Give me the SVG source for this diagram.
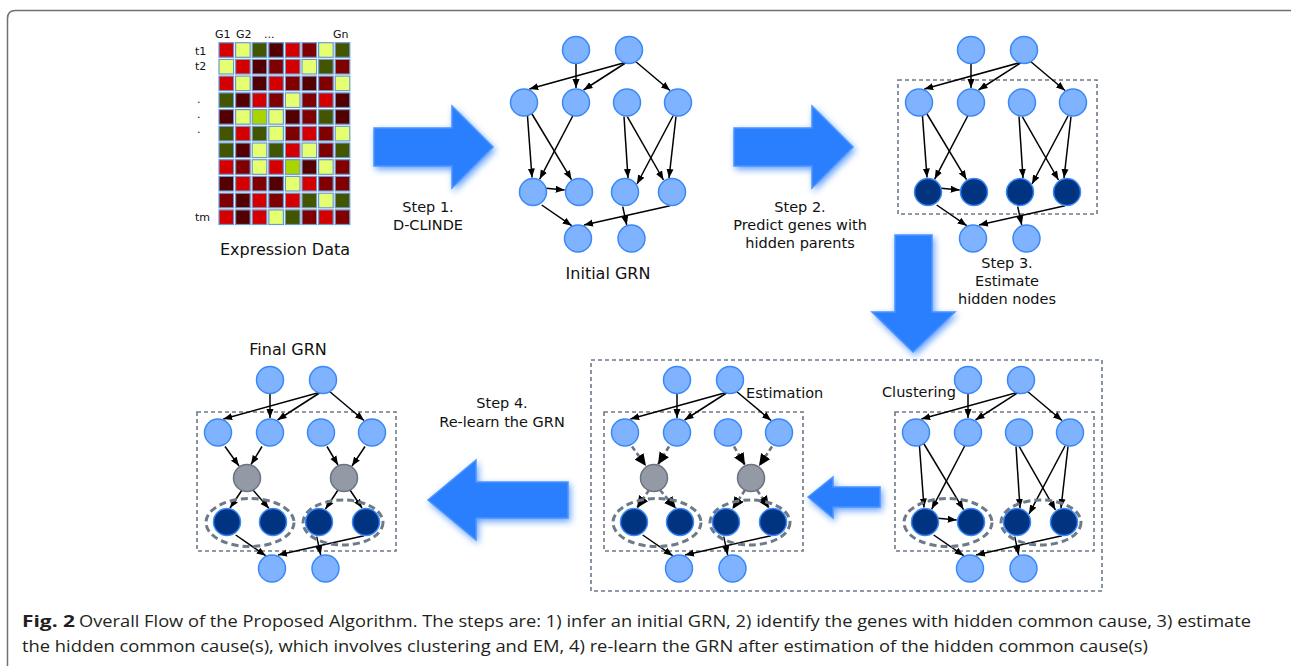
<svg xmlns="http://www.w3.org/2000/svg" width="1291" height="666" viewBox="0 0 1291 666">
<defs>
<style>
.R{fill:#d40000}.Y{fill:#e5ff70}.G{fill:#445500}.D{fill:#550000}.M{fill:#800000}.L{fill:#aad400}
.cells rect{stroke:#6a9ad6;stroke-width:1.2}
.n{fill:#80b3ff;stroke:#3a88f8;stroke-width:1.5}
.k{fill:#003380;stroke:#3a88f8;stroke-width:1.5}
.h{fill:#939aa6;stroke:#6c7380;stroke-width:1.5}
.e{fill:none;stroke:#000;stroke-width:1.5;marker-end:url(#ah)}
.ed{fill:none;stroke:#6c7585;stroke-width:2.6;stroke-dasharray:5 3;marker-end:url(#ahb)}
.box{fill:none;stroke:#6c7a89;stroke-width:1.6;stroke-dasharray:4 3}
.ell{fill:none;stroke:#6c7a89;stroke-width:3;stroke-dasharray:7 4}
.barrow{fill:#2a7fff;stroke:#4d94ff;stroke-width:1.5;filter:url(#glow)}
.lbl{font-family:"DejaVu Sans",sans-serif;font-size:14.5px;fill:#111;text-anchor:middle}
.big{font-family:"DejaVu Sans",sans-serif;font-size:16px;fill:#111;text-anchor:middle}
.mat{font-family:"DejaVu Sans",sans-serif;font-size:11px;fill:#111}
.cap{font-family:"Open Sans","Liberation Sans",sans-serif;font-size:16.5px;fill:#231f20}
.capb{font-family:"Open Sans","Liberation Sans",sans-serif;font-size:16.5px;font-weight:bold;fill:#231f20}
</style>
<marker id="ah" markerUnits="userSpaceOnUse" markerWidth="10" markerHeight="8" refX="9" refY="4" orient="auto"><path d="M0,0.5 L9,4 L0,7.5 z" fill="#000"/></marker>
<marker id="ahb" markerUnits="userSpaceOnUse" markerWidth="13" markerHeight="11" refX="12" refY="5.5" orient="auto"><path d="M0,0 L12,5.5 L0,11 z" fill="#000"/></marker>
<filter id="glow" x="-30%" y="-30%" width="160%" height="160%">
<feGaussianBlur in="SourceGraphic" stdDeviation="3.5" result="blur"/>
<feOffset in="blur" dx="2" dy="3" result="off"/>
<feComponentTransfer in="off" result="soft"><feFuncA type="linear" slope="0.75"/></feComponentTransfer>
<feGaussianBlur in="SourceGraphic" stdDeviation="0.7" result="edge"/>
<feMerge><feMergeNode in="soft"/><feMergeNode in="edge"/></feMerge>
</filter>
</defs>
<rect width="1291" height="666" fill="#fff"/>
<path d="M7.5,666 L7.5,18.5 Q7.5,10.5 15.5,10.5 L1291,10.5" fill="none" stroke="#707070" stroke-width="1.5"/>

<!-- Expression data matrix -->
<g id="expression-data">
<g class="mat">
<text x="215" y="38">G1</text><text x="236" y="38">G2</text><text x="264" y="38">...</text><text x="333" y="38">Gn</text>
<text x="195" y="55">t1</text><text x="195" y="70">t2</text>
<text x="197" y="103">.</text><text x="197" y="118">.</text><text x="197" y="133">.</text>
<text x="195" y="221">tm</text>
</g>
<g class="cells">
<g transform="translate(0,42.7)"><rect class="R" x="219" width="14.6" height="14.6"/><rect class="Y" x="235.6" width="14.6" height="14.6"/><rect class="G" x="252.2" width="14.6" height="14.6"/><rect class="D" x="268.8" width="14.6" height="14.6"/><rect class="R" x="285.4" width="14.6" height="14.6"/><rect class="M" x="302" width="14.6" height="14.6"/><rect class="Y" x="318.6" width="14.6" height="14.6"/><rect class="G" x="335.2" width="14.6" height="14.6"/></g>
<g transform="translate(0,59.4)"><rect class="Y" x="219" width="14.6" height="14.6"/><rect class="R" x="235.6" width="14.6" height="14.6"/><rect class="D" x="252.2" width="14.6" height="14.6"/><rect class="M" x="268.8" width="14.6" height="14.6"/><rect class="R" x="285.4" width="14.6" height="14.6"/><rect class="Y" x="302" width="14.6" height="14.6"/><rect class="G" x="318.6" width="14.6" height="14.6"/><rect class="M" x="335.2" width="14.6" height="14.6"/></g>
<g transform="translate(0,76.1)"><rect class="R" x="219" width="14.6" height="14.6"/><rect class="Y" x="235.6" width="14.6" height="14.6"/><rect class="D" x="252.2" width="14.6" height="14.6"/><rect class="R" x="268.8" width="14.6" height="14.6"/><rect class="M" x="285.4" width="14.6" height="14.6"/><rect class="D" x="302" width="14.6" height="14.6"/><rect class="M" x="318.6" width="14.6" height="14.6"/><rect class="Y" x="335.2" width="14.6" height="14.6"/></g>
<g transform="translate(0,92.9)"><rect class="G" x="219" width="14.6" height="14.6"/><rect class="D" x="235.6" width="14.6" height="14.6"/><rect class="R" x="252.2" width="14.6" height="14.6"/><rect class="M" x="268.8" width="14.6" height="14.6"/><rect class="Y" x="285.4" width="14.6" height="14.6"/><rect class="M" x="302" width="14.6" height="14.6"/><rect class="R" x="318.6" width="14.6" height="14.6"/><rect class="D" x="335.2" width="14.6" height="14.6"/></g>
<g transform="translate(0,109.6)"><rect class="D" x="219" width="14.6" height="14.6"/><rect class="Y" x="235.6" width="14.6" height="14.6"/><rect class="L" x="252.2" width="14.6" height="14.6"/><rect class="Y" x="268.8" width="14.6" height="14.6"/><rect class="D" x="285.4" width="14.6" height="14.6"/><rect class="M" x="302" width="14.6" height="14.6"/><rect class="G" x="318.6" width="14.6" height="14.6"/><rect class="D" x="335.2" width="14.6" height="14.6"/></g>
<g transform="translate(0,126.3)"><rect class="G" x="219" width="14.6" height="14.6"/><rect class="R" x="235.6" width="14.6" height="14.6"/><rect class="G" x="252.2" width="14.6" height="14.6"/><rect class="Y" x="268.8" width="14.6" height="14.6"/><rect class="M" x="285.4" width="14.6" height="14.6"/><rect class="R" x="302" width="14.6" height="14.6"/><rect class="M" x="318.6" width="14.6" height="14.6"/><rect class="Y" x="335.2" width="14.6" height="14.6"/></g>
<g transform="translate(0,143)"><rect class="G" x="219" width="14.6" height="14.6"/><rect class="D" x="235.6" width="14.6" height="14.6"/><rect class="Y" x="252.2" width="14.6" height="14.6"/><rect class="G" x="268.8" width="14.6" height="14.6"/><rect class="R" x="285.4" width="14.6" height="14.6"/><rect class="Y" x="302" width="14.6" height="14.6"/><rect class="M" x="318.6" width="14.6" height="14.6"/><rect class="G" x="335.2" width="14.6" height="14.6"/></g>
<g transform="translate(0,159.7)"><rect class="R" x="219" width="14.6" height="14.6"/><rect class="M" x="235.6" width="14.6" height="14.6"/><rect class="Y" x="252.2" width="14.6" height="14.6"/><rect class="R" x="268.8" width="14.6" height="14.6"/><rect class="L" x="285.4" width="14.6" height="14.6"/><rect class="D" x="302" width="14.6" height="14.6"/><rect class="Y" x="318.6" width="14.6" height="14.6"/><rect class="M" x="335.2" width="14.6" height="14.6"/></g>
<g transform="translate(0,176.4)"><rect class="D" x="219" width="14.6" height="14.6"/><rect class="R" x="235.6" width="14.6" height="14.6"/><rect class="M" x="252.2" width="14.6" height="14.6"/><rect class="D" x="268.8" width="14.6" height="14.6"/><rect class="Y" x="285.4" width="14.6" height="14.6"/><rect class="R" x="302" width="14.6" height="14.6"/><rect class="M" x="318.6" width="14.6" height="14.6"/><rect class="M" x="335.2" width="14.6" height="14.6"/></g>
<g transform="translate(0,193.2)"><rect class="M" x="219" width="14.6" height="14.6"/><rect class="D" x="235.6" width="14.6" height="14.6"/><rect class="R" x="252.2" width="14.6" height="14.6"/><rect class="M" x="268.8" width="14.6" height="14.6"/><rect class="R" x="285.4" width="14.6" height="14.6"/><rect class="G" x="302" width="14.6" height="14.6"/><rect class="Y" x="318.6" width="14.6" height="14.6"/><rect class="G" x="335.2" width="14.6" height="14.6"/></g>
<g transform="translate(0,209.9)"><rect class="R" x="219" width="14.6" height="14.6"/><rect class="D" x="235.6" width="14.6" height="14.6"/><rect class="R" x="252.2" width="14.6" height="14.6"/><rect class="Y" x="268.8" width="14.6" height="14.6"/><rect class="G" x="285.4" width="14.6" height="14.6"/><rect class="M" x="302" width="14.6" height="14.6"/><rect class="R" x="318.6" width="14.6" height="14.6"/><rect class="M" x="335.2" width="14.6" height="14.6"/></g>
</g>
<text class="big" x="285" y="255">Expression Data</text>
</g>

<!-- Block arrows -->
<g id="block-arrows">
<polygon id="arrow-step1" class="barrow" points="374,128 452,128 452,106 493,147 452,188 452,166 374,166"/>
<polygon id="arrow-step2" class="barrow" points="734,128 812,128 812,106 853,147 812,188 812,166 734,166"/>
<polygon id="arrow-step3" class="barrow" points="895,235 932,235 932,312 955,312 913,352 872,312 895,312"/>
<polygon id="arrow-step4" class="barrow" points="428,500 476,460 476,482 568,482 568,518 476,518 476,540"/>
<polygon id="arrow-est" class="barrow" points="808,497 833,477 833,487 880,487 880,507 833,507 833,518"/>
</g>

<!-- Labels -->
<g id="labels">
<text class="lbl" x="428" y="212">Step 1.</text>
<text class="lbl" x="428" y="230">D-CLINDE</text>
<text class="big" x="608" y="279">Initial GRN</text>
<text class="lbl" x="800" y="212">Step 2.</text>
<text class="lbl" x="800" y="230">Predict genes with</text>
<text class="lbl" x="800" y="248">hidden parents</text>
<text class="lbl" x="1007" y="268">Step 3.</text>
<text class="lbl" x="1007" y="286">Estimate</text>
<text class="lbl" x="1007" y="304">hidden nodes</text>
<text class="lbl" x="502" y="408">Step 4.</text>
<text class="lbl" x="502" y="427">Re-learn the GRN</text>
<text class="big" x="288" y="355">Final GRN</text>
<text class="lbl" x="746" y="398" style="text-anchor:start">Estimation</text>
<text class="lbl" x="882" y="397" style="text-anchor:start">Clustering</text>
</g>

<!-- Dashed containers -->
<g id="containers">
<rect class="box" x="898" y="80" width="199" height="134"/>
<rect class="box" x="197" y="412" width="199" height="139"/>
<rect class="box" x="591" y="360" width="511" height="231"/>
<rect class="box" x="604" y="412" width="199" height="139"/>
<rect class="box" x="895" y="412" width="199" height="139"/>
</g>

<!-- Graph 1: Initial GRN -->
<g id="grn-initial" transform="translate(576,50)">
<g id="grn-initial-connectors">
<path class="e" d="M0,12 L0,38"/><path class="e" d="M51,12 L-46.7,39"/><path class="e" d="M51,12 L7.5,40"/><path class="e" d="M59,11 L94,40.5"/>
<path class="e" d="M-48.7,63.5 L-44,127.5"/><path class="e" d="M-44.3,63.5 L-4.5,129.6"/><path class="e" d="M-3.3,66 L-36.3,129.1"/>
<path class="e" d="M48,66.5 L52,128"/><path class="e" d="M51.3,66.7 L87.5,130"/><path class="e" d="M97,66 L61,134"/><path class="e" d="M100,66.5 L93,128"/>
<path class="e" d="M-30,138.3 L-11.3,140"/><path class="e" d="M-34.3,155 L-4.3,175.7"/><path class="e" d="M46.7,156.7 L50.7,175"/><path class="e" d="M94,155.7 L8,175"/>
</g>
<g id="i-t1"><circle class="n" cx="0" cy="0" r="13.5"/></g><g id="i-t2"><circle class="n" cx="53" cy="0" r="13.5"/></g>
<g id="i-a1"><circle class="n" cx="-52" cy="52.5" r="13.5"/></g><g id="i-a2"><circle class="n" cx="0" cy="52.5" r="13.5"/></g><g id="i-a3"><circle class="n" cx="51" cy="52.5" r="13.5"/></g><g id="i-a4"><circle class="n" cx="102" cy="52.5" r="13.5"/></g>
<g id="i-b1"><circle class="n" cx="-43" cy="142" r="13.5"/></g><g id="i-b2"><circle class="n" cx="3" cy="142" r="13.5"/></g><g id="i-b3"><circle class="n" cx="49" cy="142" r="13.5"/></g><g id="i-b4"><circle class="n" cx="96" cy="142" r="13.5"/></g>
<g id="i-c1"><circle class="n" cx="2" cy="188.5" r="13.5"/></g><g id="i-c2"><circle class="n" cx="55.5" cy="188.5" r="13.5"/></g>
</g>

<!-- Graph 2: predicted hidden parents -->
<g id="grn-step2" transform="translate(971,50)">
<g id="grn-step2-connectors">
<path class="e" d="M0,12 L0,38"/><path class="e" d="M51,12 L-46.7,39"/><path class="e" d="M51,12 L7.5,40"/><path class="e" d="M59,11 L94,40.5"/>
<path class="e" d="M-48.7,63.5 L-44,127.5"/><path class="e" d="M-44.3,63.5 L-4.5,129.6"/><path class="e" d="M-3.3,66 L-36.3,129.1"/>
<path class="e" d="M48,66.5 L52,128"/><path class="e" d="M51.3,66.7 L87.5,130"/><path class="e" d="M97,66 L61,134"/><path class="e" d="M100,66.5 L93,128"/>
<path class="e" d="M-30,138.3 L-11.3,140"/><path class="e" d="M-34.3,155 L-4.3,175.7"/><path class="e" d="M46.7,156.7 L50.7,175"/><path class="e" d="M94,155.7 L8,175"/>
</g>
<g id="s-t1"><circle class="n" cx="0" cy="0" r="13.5"/></g><g id="s-t2"><circle class="n" cx="53" cy="0" r="13.5"/></g>
<g id="s-a1"><circle class="n" cx="-52" cy="52.5" r="13.5"/></g><g id="s-a2"><circle class="n" cx="0" cy="52.5" r="13.5"/></g><g id="s-a3"><circle class="n" cx="51" cy="52.5" r="13.5"/></g><g id="s-a4"><circle class="n" cx="102" cy="52.5" r="13.5"/></g>
<g id="s-b1"><circle class="k" cx="-43" cy="142" r="13.5"/></g><g id="s-b2"><circle class="k" cx="3" cy="142" r="13.5"/></g><g id="s-b3"><circle class="k" cx="49" cy="142" r="13.5"/></g><g id="s-b4"><circle class="k" cx="96" cy="142" r="13.5"/></g>
<g id="s-c1"><circle class="n" cx="2" cy="188.5" r="13.5"/></g><g id="s-c2"><circle class="n" cx="55.5" cy="188.5" r="13.5"/></g>
</g>

<!-- Graph 3: Clustering -->
<g id="grn-clustering" transform="translate(968,380)">
<g id="grn-clustering-connectors">
<path class="e" d="M0,12 L0,38"/><path class="e" d="M51,12 L-46.7,39"/><path class="e" d="M51,12 L7.5,40"/><path class="e" d="M59,11 L94,40.5"/>
<path class="e" d="M-48.7,63.5 L-44,127.5"/><path class="e" d="M-44.3,63.5 L-4.5,129.6"/><path class="e" d="M-3.3,66 L-36.3,129.1"/>
<path class="e" d="M48,66.5 L52,128"/><path class="e" d="M51.3,66.7 L87.5,130"/><path class="e" d="M97,66 L61,134"/><path class="e" d="M100,66.5 L93,128"/>
<path class="e" d="M-30,138.3 L-11.3,140"/><path class="e" d="M-34.3,155 L-4.3,175.7"/><path class="e" d="M46.7,156.7 L50.7,175"/><path class="e" d="M94,155.7 L8,175"/>
</g>
<ellipse class="ell" cx="-20" cy="142.5" rx="44" ry="24"/><ellipse class="ell" cx="73" cy="142.5" rx="40" ry="22.5"/>
<g id="c-t1"><circle class="n" cx="0" cy="0" r="13.5"/></g><g id="c-t2"><circle class="n" cx="53" cy="0" r="13.5"/></g>
<g id="c-a1"><circle class="n" cx="-52" cy="52.5" r="13.5"/></g><g id="c-a2"><circle class="n" cx="0" cy="52.5" r="13.5"/></g><g id="c-a3"><circle class="n" cx="51" cy="52.5" r="13.5"/></g><g id="c-a4"><circle class="n" cx="102" cy="52.5" r="13.5"/></g>
<g id="c-b1"><circle class="k" cx="-43" cy="142" r="13.5"/></g><g id="c-b2"><circle class="k" cx="3" cy="142" r="13.5"/></g><g id="c-b3"><circle class="k" cx="49" cy="142" r="13.5"/></g><g id="c-b4"><circle class="k" cx="96" cy="142" r="13.5"/></g>
<g id="c-c1"><circle class="n" cx="2" cy="188.5" r="13.5"/></g><g id="c-c2"><circle class="n" cx="55.5" cy="188.5" r="13.5"/></g>
</g>

<!-- Graph 4: Estimation -->
<g id="grn-estimation" transform="translate(677,380)">
<g id="grn-estimation-connectors">
<path class="e" d="M0,12 L0,38"/><path class="e" d="M51,12 L-46.7,39"/><path class="e" d="M51,12 L7.5,40"/><path class="e" d="M59,11 L94,40.5"/>
<path class="ed" d="M-45,66.5 L-31,86"/><path class="ed" d="M-8,66.5 L-19,84.5"/><path class="ed" d="M57,66.5 L68,85"/><path class="ed" d="M95,66.5 L82,86"/>
<path class="ed" d="M-28,110 L-40,128"/><path class="ed" d="M-17,110 L-1,128.5"/><path class="ed" d="M68,110 L55.5,129"/><path class="ed" d="M80,110 L92,128"/>
<path class="e" d="M-34.3,155 L-4.3,175.7"/><path class="e" d="M46.7,156.7 L50.7,175"/><path class="e" d="M94,155.7 L8,175"/>
</g>
<ellipse class="ell" cx="-20" cy="142.5" rx="44" ry="24"/><ellipse class="ell" cx="73" cy="142.5" rx="40" ry="22.5"/>
<g id="e-t1"><circle class="n" cx="0" cy="0" r="13.5"/></g><g id="e-t2"><circle class="n" cx="53" cy="0" r="13.5"/></g>
<g id="e-a1"><circle class="n" cx="-52" cy="52.5" r="13.5"/></g><g id="e-a2"><circle class="n" cx="0" cy="52.5" r="13.5"/></g><g id="e-a3"><circle class="n" cx="51" cy="52.5" r="13.5"/></g><g id="e-a4"><circle class="n" cx="102" cy="52.5" r="13.5"/></g>
<g id="e-h1"><circle class="h" cx="-23" cy="98" r="13.5"/></g><g id="e-h2"><circle class="h" cx="74" cy="98" r="13.5"/></g>
<g id="e-b1"><circle class="k" cx="-43" cy="142" r="13.5"/></g><g id="e-b2"><circle class="k" cx="3" cy="142" r="13.5"/></g><g id="e-b3"><circle class="k" cx="49" cy="142" r="13.5"/></g><g id="e-b4"><circle class="k" cx="96" cy="142" r="13.5"/></g>
<g id="e-c1"><circle class="n" cx="2" cy="188.5" r="13.5"/></g><g id="e-c2"><circle class="n" cx="55.5" cy="188.5" r="13.5"/></g>
</g>

<!-- Graph 5: Final GRN -->
<g id="grn-final" transform="translate(270,380)">
<g id="grn-final-connectors">
<path class="e" d="M0,12 L0,38"/><path class="e" d="M51,12 L-46.7,39"/><path class="e" d="M51,12 L7.5,40"/><path class="e" d="M59,11 L94,40.5"/>
<path class="e" d="M-45,66.5 L-31,86"/><path class="e" d="M-8,66.5 L-19,84.5"/><path class="e" d="M57,66.5 L68,85"/><path class="e" d="M95,66.5 L82,86"/>
<path class="e" d="M-28,110 L-40,128"/><path class="e" d="M-17,110 L-1,128.5"/><path class="e" d="M68,110 L55.5,129"/><path class="e" d="M80,110 L92,128"/>
<path class="e" d="M-34.3,155 L-4.3,175.7"/><path class="e" d="M46.7,156.7 L50.7,175"/><path class="e" d="M94,155.7 L8,175"/>
</g>
<ellipse class="ell" cx="-20" cy="142.5" rx="44" ry="24"/><ellipse class="ell" cx="73" cy="142.5" rx="40" ry="22.5"/>
<g id="f-t1"><circle class="n" cx="0" cy="0" r="13.5"/></g><g id="f-t2"><circle class="n" cx="53" cy="0" r="13.5"/></g>
<g id="f-a1"><circle class="n" cx="-52" cy="52.5" r="13.5"/></g><g id="f-a2"><circle class="n" cx="0" cy="52.5" r="13.5"/></g><g id="f-a3"><circle class="n" cx="51" cy="52.5" r="13.5"/></g><g id="f-a4"><circle class="n" cx="102" cy="52.5" r="13.5"/></g>
<g id="f-h1"><circle class="h" cx="-23" cy="98" r="13.5"/></g><g id="f-h2"><circle class="h" cx="74" cy="98" r="13.5"/></g>
<g id="f-b1"><circle class="k" cx="-43" cy="142" r="13.5"/></g><g id="f-b2"><circle class="k" cx="3" cy="142" r="13.5"/></g><g id="f-b3"><circle class="k" cx="49" cy="142" r="13.5"/></g><g id="f-b4"><circle class="k" cx="96" cy="142" r="13.5"/></g>
<g id="f-c1"><circle class="n" cx="2" cy="188.5" r="13.5"/></g><g id="f-c2"><circle class="n" cx="55.5" cy="188.5" r="13.5"/></g>
</g>

<!-- Caption -->
<g id="caption">
<text class="capb" x="22" y="627" textLength="53" lengthAdjust="spacingAndGlyphs">Fig. 2</text>
<text class="cap" x="79" y="627" textLength="1172" lengthAdjust="spacingAndGlyphs">Overall Flow of the Proposed Algorithm. The steps are: 1) infer an initial GRN, 2) identify the genes with hidden common cause, 3) estimate</text>
<text class="cap" x="22" y="652" textLength="1126" lengthAdjust="spacingAndGlyphs">the hidden common cause(s), which involves clustering and EM, 4) re-learn the GRN after estimation of the hidden common cause(s)</text>
</g>
</svg>
